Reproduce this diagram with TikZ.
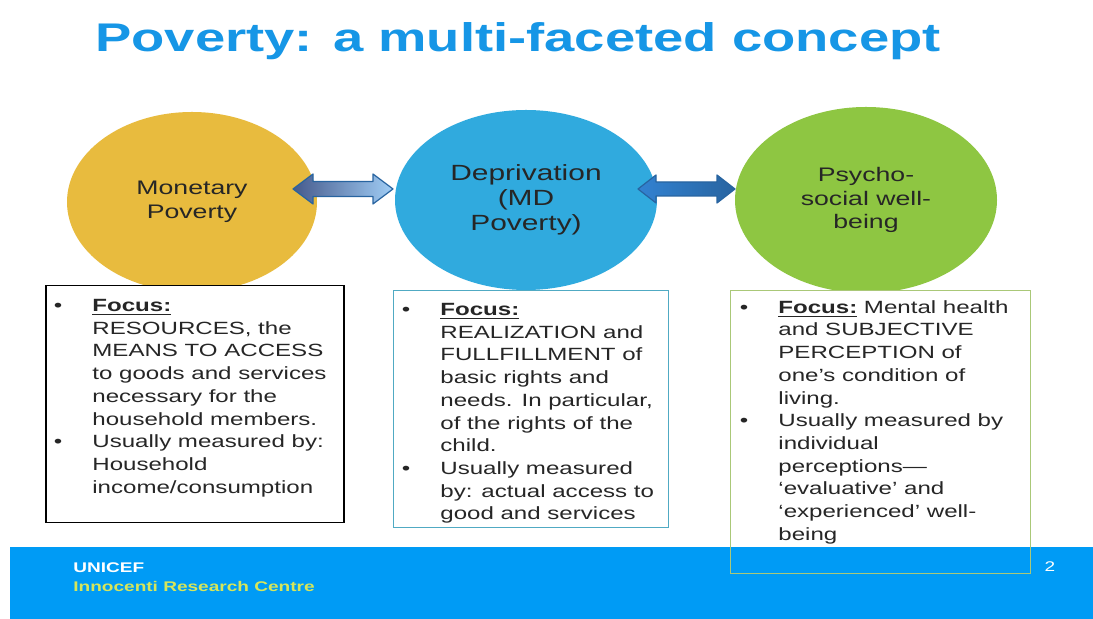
\documentclass[tikz,border=0pt]{standalone}
\usepackage{xcolor}
\usepackage{fontspec}
\setmainfont{Liberation Sans}[FakeStretch=1.36]
\usepackage{tikz}
\usetikzlibrary{shapes.geometric,calc}

\definecolor{titelblau}{RGB}{22,150,230}
\definecolor{gelb}{RGB}{232,187,62}
\definecolor{blau}{RGB}{48,170,222}
\definecolor{gruen}{RGB}{142,198,66}
\definecolor{bandblau}{RGB}{0,155,245}
\definecolor{rahmenblau}{RGB}{80,170,195}
\definecolor{rahmengruen}{RGB}{170,200,120}
\definecolor{pfeilrand}{RGB}{40,100,160}
\definecolor{pfeildunkel}{RGB}{70,90,140}
\definecolor{pfeilhell}{RGB}{160,205,245}
\definecolor{pfeilmitte}{RGB}{130,100,115}
\definecolor{pfeilblau}{RGB}{50,130,210}
\definecolor{hellgruen}{RGB}{215,230,90}

\begin{document}
\begin{tikzpicture}[x=0.5pt,y=-0.5pt,
blase/.style={ellipse, inner sep=0pt, align=center, text=black!85, font=\fontsize{9.8}{11.8}\selectfont},
kasten/.style={rectangle, draw, fill=white, anchor=north west, inner sep=0pt},
textblock/.style={anchor=north west, inner sep=0pt, align=left, text=black!85, font=\fontsize{8.85}{11.35}\selectfont},
pfeil/.style={draw=pfeilrand, line width=0.6pt, line join=round},
fuss/.style={anchor=base west, inner sep=0pt, font=\bfseries\fontsize{7}{8}\selectfont},
]
\useasboundingbox (0,0) rectangle (1093,619);
\fill[white] (0,0) rectangle (1093,619);

\node[anchor=base, text=titelblau, font=\bfseries\fontsize{20}{24}\selectfont] (T) at (518,52) {Poverty: a multi-faceted concept};

\node[blase, fill=gelb, minimum width=125pt, minimum height=90pt] (M) at (192,202) {Monetary\\Poverty};
\node[blase, fill=blau, minimum width=131pt, minimum height=90pt, font=\fontsize{11}{12.6}\selectfont] (D) at (526,200) {Deprivation\\(MD\\Poverty)};
\node[blase, fill=gruen, minimum width=131pt, minimum height=93pt] (P) at (866,200) {Psycho-\\social well-\\being};

\coordinate (a1) at (293,189);
\coordinate (b1) at (393,189);
\coordinate (a2) at (638,189);
\coordinate (b2) at (735,189);

\draw[pfeil, left color=pfeildunkel, right color=pfeilhell] (a1) -- ++(20,-15) -- ++(0,7.5) -- ($(b1)+(-20,-7.5)$) -- ++(0,-7.5) -- (b1) -- ++(-20,15) -- ++(0,-7.5) -- ($(a1)+(20,7.5)$) -- ++(0,7.5) -- cycle;
\draw[pfeil, left color=pfeilblau, middle color=pfeilmitte, right color=pfeilrand] (a2) -- ++(18,-14) -- ++(0,7) -- ($(b2)+(-18,-7)$) -- ++(0,-7) -- (b2) -- ++(-18,14) -- ++(0,-7) -- ($(a2)+(18,7)$) -- ++(0,7) -- cycle;

\node[kasten, line width=0.75pt, minimum width=149pt, minimum height=118.5pt] (K1) at (45,285) {};
\node[kasten, draw=rahmenblau, minimum width=137.5pt, minimum height=118.5pt] (K2) at (393,290) {};
\node[kasten, draw=rahmengruen, minimum width=150pt, minimum height=141.5pt] (K3) at (730,290) {};

\fill[bandblau] (10,547) rectangle (1093,619);
\draw[rahmengruen] (K3.north west) rectangle (K3.south east);

\node[textblock] (L1) at ($(K1.north west)+(47,14)$) {\llap{\textbullet\hspace{15pt}}\underline{\textbf{Focus:}}\\RESOURCES, the\\MEANS TO ACCESS\\to goods and services\\necessary for the\\household members.\\\llap{\textbullet\hspace{15pt}}Usually measured by:\\Household\\income/consumption};

\node[textblock] (L2) at ($(K2.north west)+(47,13)$) {\llap{\textbullet\hspace{15pt}}\underline{\textbf{Focus:}}\\REALIZATION and\\FULLFILLMENT of\\basic rights and\\needs. In particular,\\of the rights of the\\child.\\\llap{\textbullet\hspace{15pt}}Usually measured\\by: actual access to\\good and services};

\node[textblock] (L3) at ($(K3.north west)+(48,10)$) {\llap{\textbullet\hspace{15pt}}\underline{\textbf{Focus:}} Mental health\\and SUBJECTIVE\\PERCEPTION of\\one’s condition of\\living.\\\llap{\textbullet\hspace{15pt}}Usually measured by\\individual\\perceptions—\\‘evaluative’ and\\‘experienced’ well-\\being};

\node[fuss, text=white] (U) at (73,573) {UNICEF};
\node[fuss, text=hellgruen] (I) at (73,592) {Innocenti Research Centre};
\node[anchor=base, inner sep=0pt, text=white, font=\fontsize{7}{8}\selectfont] (S) at (1050,572) {2};

\end{tikzpicture}
\end{document}
